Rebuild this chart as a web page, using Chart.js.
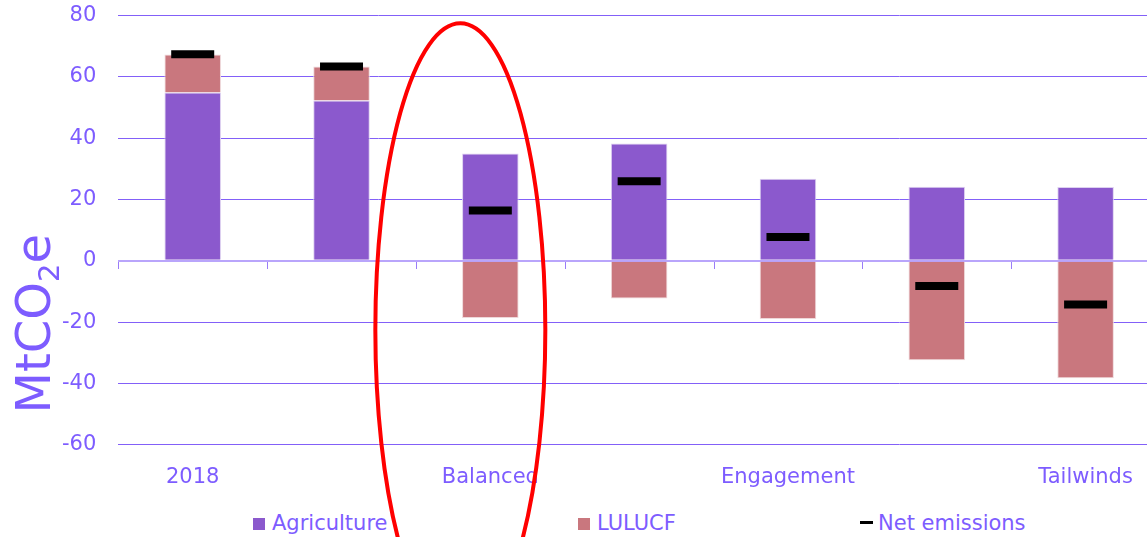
<!DOCTYPE html>
<html>
<head>
<meta charset="utf-8">
<title>Agriculture and LULUCF emissions</title>
<script src="https://cdn.jsdelivr.net/npm/chart.js@4.4.1/dist/chart.umd.min.js"></script>
<style>
    html, body { margin: 0; padding: 0; background: #fff; overflow: hidden; }
    #wrap { position: relative; width: 1160px; height: 537px; overflow: hidden; }
    #legend { position: absolute; left: 0; top: 0; width: 1160px; height: 537px; font-family: "DejaVu Sans", sans-serif; font-size: 21px; color: #7d5cff; }
    #legend .item { position: absolute; top: 510px; line-height: 26px; white-space: nowrap; }
    #legend .box { display: inline-block; width: 12px; height: 12px; margin-right: 7px; vertical-align: 0px; }
    #legend .dash { display: inline-block; width: 13px; height: 3px; background: #000; margin-right: 5px; vertical-align: 6px; }
    /* canvas pulled up so the 80 gridline lands near the top edge */
    #netchart { position: absolute; left: 0; top: -19px; }
</style>
</head>
<body>
<div id="wrap">
    <div id="legend">
        <span class="item" style="left:253px"><span class="box" style="background:#8b59cd"></span>Agriculture</span>
        <span class="item" style="left:578px"><span class="box" style="background:#c9777e"></span>LULUCF</span>
        <span class="item" style="left:860px"><span class="dash"></span>Net emissions</span>
    </div>
    <canvas id="netchart" width="1160" height="556"></canvas>
</div>
<script>
var Categories = ['2018', '', 'Balanced', '', 'Engagement', '', 'Tailwinds'];
var Agriculture = [54.9, 52.3, 35.0, 38.3, 26.8, 24.2, 24.1];
var Lulucf = [12.4, 11.1, -18.6, -12.3, -19.0, -32.4, -38.3];
var NetEmissions = [67.4, 63.4, 16.4, 26.0, 7.8, -8.2, -14.2];
var YMin = -60, YMax = 80, YStep = 20;

var TextColor = '#7d5cff';
var FontName = '"DejaVu Sans", sans-serif';

// tick marks on the zero line, red ring round Balanced, rotated unit title
var notePlugin = {
    id: 'notes',
    beforeDatasetsDraw: function (chart) {
        var ctx = chart.ctx;
        var xs = chart.scales.x, ys = chart.scales.y;
        var y0 = Math.round(ys.getPixelForValue(0)) + 1;
        ctx.save();
        ctx.strokeStyle = '#9a7cf8';
        ctx.lineWidth = 1;
        ctx.beginPath();
        for (var i = 0; i <= Categories.length; i++) {
            var px = Math.round(xs.getPixelForValue(i - 0.5)) + 0.5;
            ctx.moveTo(px, y0);
            ctx.lineTo(px, y0 + 7);
        }
        ctx.stroke();
        ctx.restore();
    },
    afterDraw: function (chart) {
        var ctx = chart.ctx;
        var xs = chart.scales.x, ys = chart.scales.y;

        var cx = xs.getPixelForValue(2) - 30;
        var cy = ys.getPixelForValue(-22.5);
        var ry = cy - ys.getPixelForValue(77.5);
        ctx.save();
        ctx.strokeStyle = '#ff0000';
        ctx.lineWidth = 4;
        ctx.beginPath();
        ctx.ellipse(cx, cy, 85, ry, 0, 0, Math.PI * 2);
        ctx.stroke();
        ctx.restore();

        // MtCO2e, vertical
        ctx.save();
        ctx.translate(50, ys.getPixelForValue(-20.5));
        ctx.rotate(-Math.PI / 2);
        ctx.fillStyle = TextColor;
        ctx.textBaseline = 'alphabetic';
        var big = '48px ' + FontName, small = '29px ' + FontName;
        ctx.font = big;
        var w1 = ctx.measureText('MtCO').width;
        var w3 = ctx.measureText('e').width;
        ctx.font = small;
        var w2 = ctx.measureText('2').width;
        var start = -(w1 + w2 + w3) / 2;
        ctx.font = big;
        ctx.fillText('MtCO', start, 0);
        ctx.fillText('e', start + w1 + w2, 0);
        ctx.font = small;
        ctx.fillText('2', start + w1, 9);
        ctx.restore();
    }
};

function BindChart() {
    var canvas = document.getElementById('netchart');
    new Chart(canvas, {
        type: 'bar',
        plugins: [notePlugin],
        data: {
            labels: Categories,
            datasets: [
                {
                    type: 'line',
                    label: 'Net emissions',
                    data: NetEmissions,
                    showLine: false,
                    pointStyle: 'line',
                    pointRadius: 21.5,
                    pointHoverRadius: 21.5,
                    pointBorderWidth: 8,
                    pointHoverBorderWidth: 8,
                    pointBorderColor: '#000',
                    borderColor: '#000',
                    backgroundColor: '#000',
                    clip: false,
                    order: 0
                },
                {
                    label: 'Agriculture',
                    data: Agriculture,
                    backgroundColor: '#8b59cd',
                    borderColor: '#ddd0f0',
                    borderWidth: 1,
                    barPercentage: 0.38,
                    categoryPercentage: 1,
                    order: 1
                },
                {
                    label: 'LULUCF',
                    data: Lulucf,
                    backgroundColor: '#c9777e',
                    borderColor: '#eed8da',
                    borderWidth: 1,
                    barPercentage: 0.38,
                    categoryPercentage: 1,
                    order: 1
                }
            ]
        },
        options: {
            responsive: false,
            animation: false,
            layout: { autoPadding: false, padding: { left: 40, top: 16, right: 0, bottom: 27 } },
            plugins: {
                legend: { display: false },
                tooltip: { enabled: false }
            },
            scales: {
                x: {
                    stacked: true,
                    grid: { display: false, drawTicks: false },
                    border: { display: false },
                    ticks: { color: TextColor, font: { family: FontName, size: 21 }, padding: 20, autoSkip: false, maxRotation: 0 }
                },
                y: {
                    stacked: true,
                    min: YMin,
                    max: YMax,
                    ticks: { stepSize: YStep, color: TextColor, font: { family: FontName, size: 21 }, padding: 22 },
                    grid: {
                        drawTicks: false,
                        color: function (c) { return c.tick && c.tick.value === 0 ? '#b9a5fb' : '#8360f8'; },
                        lineWidth: function (c) { return c.tick && c.tick.value === 0 ? 2 : 1; }
                    },
                    border: { display: false }
                }
            }
        }
    });
}
BindChart();
</script>
</body>
</html>
